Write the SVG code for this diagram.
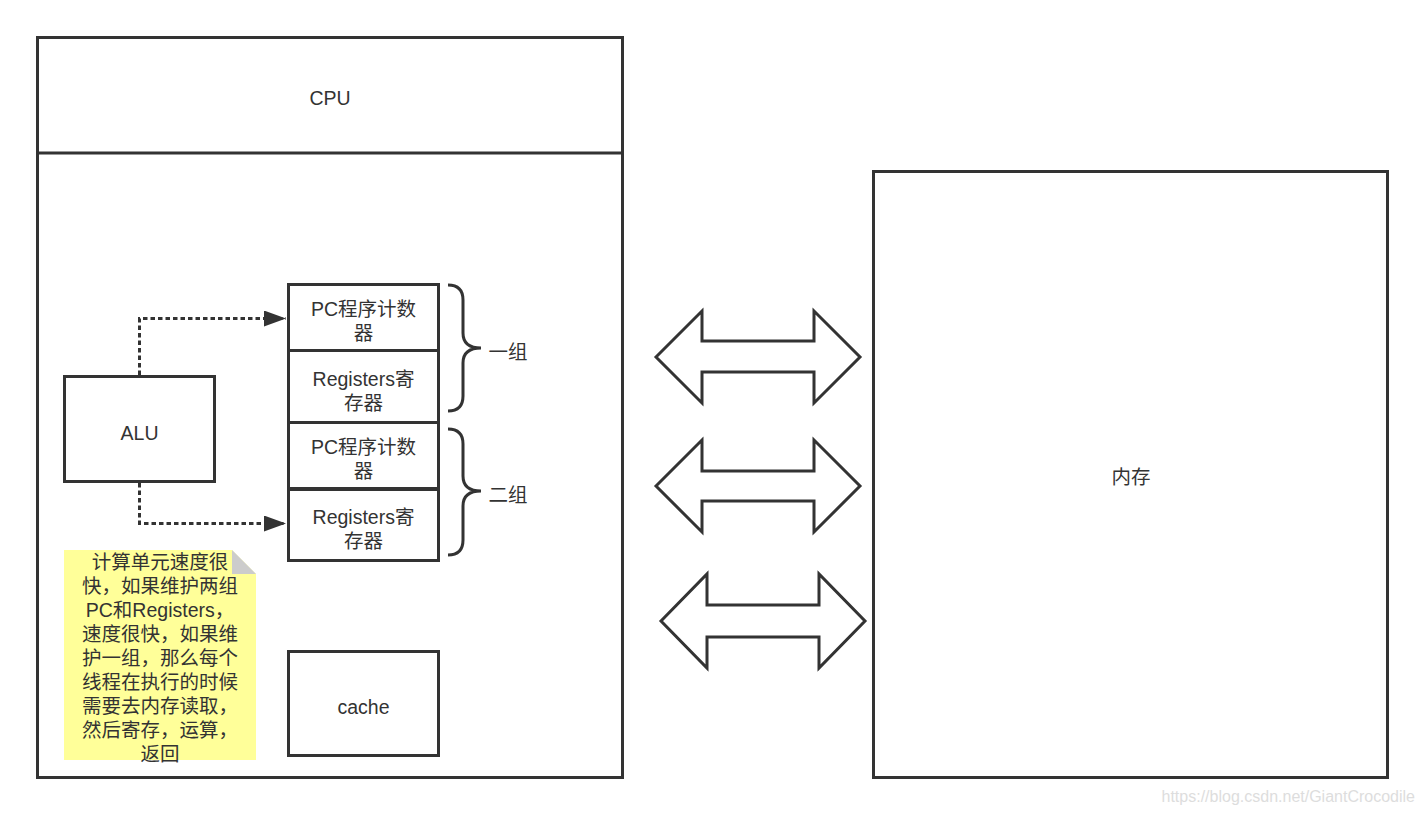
<svg xmlns="http://www.w3.org/2000/svg" width="1425" height="816" viewBox="0 0 1425 816">
  <style>
    .box { fill: #ffffff; stroke: #333333; stroke-width: 3; }
    .lbl { font-family: "Liberation Sans", "Noto Sans CJK SC", sans-serif; font-size: 19.5px; fill: #333333; text-anchor: middle; }
    .note { font-family: "Liberation Sans", "Noto Sans CJK SC", sans-serif; font-size: 19.5px; fill: #333333; text-anchor: middle; }
    .flow { fill: none; stroke: #333333; stroke-width: 3; stroke-dasharray: 4.5 3; }
    .brace { fill: none; stroke: #333333; stroke-width: 3; }
    .dbl { fill: #ffffff; stroke: #333333; stroke-width: 3; stroke-linejoin: miter; }
  </style>
  <defs>
    <marker id="tri" markerUnits="userSpaceOnUse" markerWidth="24" markerHeight="18" refX="22" refY="8" orient="auto">
      <path d="M0,0 L22,8 L0,16 Z" fill="#333333"/>
    </marker>
  </defs>
  <rect width="1425" height="816" fill="#ffffff"/>

  <!-- CPU container -->
  <g id="cpu">
    <rect class="box" x="37.5" y="37.5" width="585" height="740"/>
    <line x1="37.5" y1="153" x2="622.5" y2="153" stroke="#333333" stroke-width="3"/>
    <text class="lbl" x="330" y="105">CPU</text>
  </g>

  <!-- main memory -->
  <g id="memory">
    <rect class="box" x="873.5" y="171.5" width="514" height="606"/>
    <text class="lbl" x="1131" y="484">内存</text>
  </g>

  <g id="alu">
    <rect class="box" x="64.5" y="376.5" width="150" height="105"/>
    <text class="lbl" x="139.5" y="440">ALU</text>
  </g>

  <g id="pc1">
    <rect class="box" x="288.5" y="284.5" width="150" height="66"/>
    <text class="lbl" x="363.5" y="316">PC程序计数</text>
    <text class="lbl" x="363.5" y="340">器</text>
  </g>
  <g id="reg1">
    <rect class="box" x="288.5" y="350.5" width="150" height="72"/>
    <text class="lbl" x="363.5" y="386">Registers寄</text>
    <text class="lbl" x="363.5" y="410">存器</text>
  </g>
  <g id="pc2">
    <rect class="box" x="288.5" y="422.5" width="150" height="66"/>
    <text class="lbl" x="363.5" y="454">PC程序计数</text>
    <text class="lbl" x="363.5" y="478">器</text>
  </g>
  <g id="reg2">
    <rect class="box" x="288.5" y="489.5" width="150" height="71"/>
    <text class="lbl" x="363.5" y="524">Registers寄</text>
    <text class="lbl" x="363.5" y="548">存器</text>
  </g>

  <g id="cache">
    <rect class="box" x="288.5" y="651.5" width="150" height="104"/>
    <text class="lbl" x="363.5" y="714">cache</text>
  </g>

  <!-- group braces -->
  <g id="group1">
    <path class="brace" d="M448,285 Q463,285 463,300 L463,333 Q463,348 481,348 Q463,348 463,363 L463,396 Q463,411 448,411"/>
    <text class="lbl" x="508" y="359">一组</text>
  </g>
  <g id="group2">
    <path class="brace" d="M448,429 Q463,429 463,444 L463,476 Q463,491 481,491 Q463,491 463,506 L463,540 Q463,555 448,555"/>
    <text class="lbl" x="508" y="502">二组</text>
  </g>

  <!-- sticky note -->
  <g id="note">
    <path d="M64,550 L232,550 L256,574 L256,760 L64,760 Z" fill="#ffff99"/>
    <path d="M232,550 L256,574 L232,574 Z" fill="#cccccc"/>
    <text class="note" x="160" y="569">  计算单元速度很</text>
    <text class="note" x="160" y="593">快，如果维护两组</text>
    <text class="note" x="160" y="617">PC和Registers，</text>
    <text class="note" x="160" y="641">速度很快，如果维</text>
    <text class="note" x="160" y="665">护一组，那么每个</text>
    <text class="note" x="160" y="689">线程在执行的时候</text>
    <text class="note" x="160" y="713">需要去内存读取，</text>
    <text class="note" x="160" y="737">然后寄存，运算，</text>
    <text class="note" x="160" y="761">返回</text>
  </g>

  <!-- bus arrows between CPU and memory -->
  <g id="bus1">
    <path class="dbl" d="M656,357 L702,311 L702,341 L814,341 L814,311 L860,357 L814,403 L814,372 L702,372 L702,403 Z"/>
  </g>
  <g id="bus2">
    <path class="dbl" d="M656,486 L702,440 L702,471 L814,471 L814,440 L860,486 L814,532 L814,501 L702,501 L702,532 Z"/>
  </g>
  <g id="bus3">
    <path class="dbl" d="M661,621 L707,574 L707,605 L819,605 L819,574 L865,621 L819,668 L819,637 L707,637 L707,668 Z"/>
  </g>

  <!-- connectors -->
  <g id="connectors">
    <path class="flow" d="M139.5,375 L139.5,318.5 L286,318.5" marker-end="url(#tri)"/>
    <path class="flow" d="M139.5,483 L139.5,523.5 L286,523.5" marker-end="url(#tri)"/>
  </g>

  <text x="1415" y="802" font-family="'Liberation Sans', sans-serif" font-size="16" fill="#dddddd" text-anchor="end">https://blog.csdn.net/GiantCrocodile</text>
</svg>
